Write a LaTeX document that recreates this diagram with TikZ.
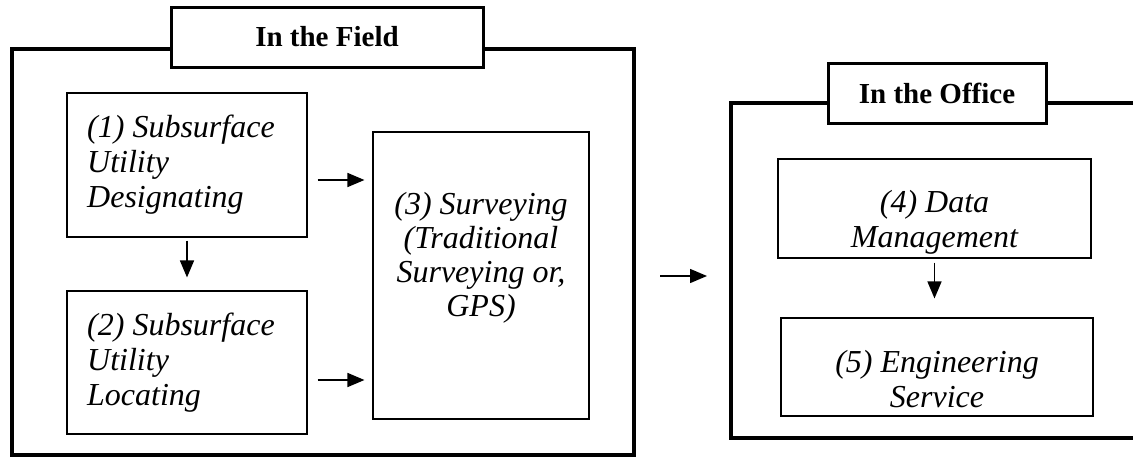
\documentclass[tikz,border=0pt]{standalone}
\usepackage{fontspec}
\setmainfont{Liberation Serif}
\usetikzlibrary{arrows.meta,positioning,calc}

\tikzset{
  zone/.style={draw, line width=4.5pt, inner sep=0pt},
  zonetag/.style={draw, fill=white, line width=3pt, inner sep=0pt,
    font=\bfseries\fontsize{29}{34}\selectfont},
  stage/.style={draw, line width=1.1pt, inner sep=0pt},
  stagetext/.style={inner sep=0pt, font=\itshape\fontsize{32}{35}\selectfont},
  flow/.style={-{Triangle[length=17pt,width=14pt]}, line width=1.5pt}
}

\begin{document}
\begin{tikzpicture}[x=1pt,y=-1pt]
\useasboundingbox (0,0) rectangle (1133,458);

% in the field
\node[zone, minimum width=622pt, minimum height=406pt] (field) at (323,252) {};
\node[zonetag, minimum width=312pt, minimum height=60pt] (fieldtag) at (327,37) {In the Field};

\node[stage, minimum width=240pt, minimum height=144pt] (desig) at (187,165) {};
\node[stagetext, align=left, anchor=north west] (desigtext) at (87,115) {(1) Subsurface\\Utility\\Designating};
\node[stage, minimum width=240pt, minimum height=143pt] (locat) at (187,362.5) {};
\node[stagetext, align=left, anchor=north west] (locattext) at (87,313) {(2) Subsurface\\Utility\\Locating};
\node[stage, minimum width=216pt, minimum height=287pt] (surv) at (481,275.5) {};
\node[stagetext, align=center, anchor=north, font=\itshape\fontsize{32}{34}\selectfont] (survtext) at (481,192)
  {(3) Surveying\\(Traditional\\Surveying or,\\GPS)};

% in the office
\coordinate (officein) at (731,276);
\draw[line width=4.5pt] (1133,103) -- (731,103) -- (731,438) -- (1133,438);
\node[zonetag, minimum width=218pt, minimum height=60pt] (officetag) at (937,93) {In the Office};

\node[stage, minimum width=313pt, minimum height=99pt] (datam) at (934.5,208.5) {};
\node[stagetext, align=center, anchor=north] (datamtext) at (934.5,190) {(4) Data\\Management};
\node[stage, minimum width=312pt, minimum height=98pt] (engin) at (937,367) {};
\node[stagetext, align=center, anchor=north] (engintext) at (937,350) {(5) Engineering\\Service};

% arrows
\draw[flow] ($(desig.east)+(10,15)$) -- ($(surv.west|-desig.east)+(-8,15)$);
\draw[flow] ($(locat.east)+(10,17.5)$) -- ($(surv.west|-locat.east)+(-8,17.5)$);
\draw[flow] ($(desig.south)+(0,3)$) -- ($(locat.north)+(0,-13)$);
\draw[flow] ($(field.east)+(24,24)$) -- ($(officein)+(-24,0)$);
\draw[flow] ($(datam.south)+(0,4)$) -- ($(datam.south|-engin.north)+(0,-19)$);
\end{tikzpicture}
\end{document}
